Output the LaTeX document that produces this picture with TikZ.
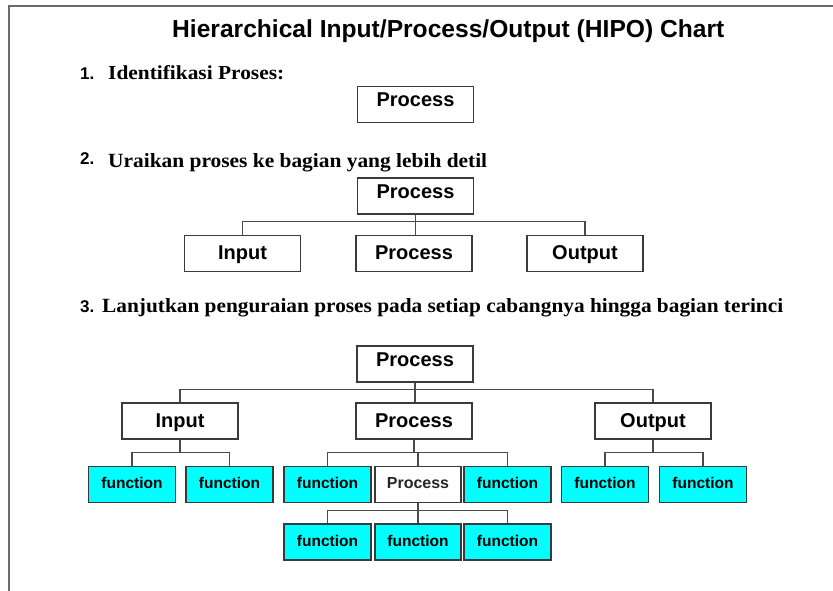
\documentclass[tikz,border=0pt]{standalone}
\usepackage{fontspec}
\setmainfont{Liberation Serif}
\setsansfont{Liberation Sans}
\usepackage{graphicx}
\definecolor{boxc}{HTML}{3A3A3A}
\definecolor{linec}{HTML}{4A4A4A}
\definecolor{framec}{HTML}{6A6A6A}
\definecolor{fnc}{HTML}{00FFFF}
\tikzset{
  box/.style={draw=boxc, line width=1.5pt, fill=white, minimum width=116pt, minimum height=36pt,
    inner sep=0pt, font=\sffamily\bfseries\fontsize{20}{20}\selectfont, text height=14.5pt, text depth=2.5pt},
  topbox/.style={box, text height=10pt, text depth=6pt},
  fnbox/.style={draw=boxc, line width=1.5pt, fill=fnc, minimum width=87pt, minimum height=36pt,
    inner sep=0pt, font=\sffamily\bfseries\fontsize{15.5}{15.5}\selectfont, text height=11pt, text depth=3pt},
  pbox/.style={fnbox, minimum width=86pt, fill=white, text=black!85, font=\sffamily\bfseries\fontsize{16}{16}\selectfont},
  conn/.style={draw=linec, line width=1.4pt},
  heading/.style={anchor=base west, inner sep=0pt},
  num/.style={anchor=base west, inner sep=0pt, font=\sffamily\bfseries\fontsize{17}{17}\selectfont},
}
\begin{document}
\begin{tikzpicture}[x=1pt, y=-1pt]
\useasboundingbox (0,0) rectangle (833,590);
% frame
\draw[framec, line width=2pt] (9,591) -- (9,6) -- (834,6);
% title
\node[heading] (title) at (172,37) {\resizebox{552pt}{!}{\sffamily\bfseries Hierarchical Input/Process/Output (HIPO) Chart}};
% step 1
\node[num] (n1) at (80,79) {1.};
\node[heading] (t1) at (108,79) {\resizebox{176pt}{14pt}{\bfseries Identifikasi Proses:}};
\node[topbox] (p1) at (415.5,104.5) {Process};
% step 2
\node[num] (n2) at (80,164) {2.};
\node[heading] (t2) at (108,167) {\resizebox{379pt}{14pt}{\bfseries Uraikan proses ke bagian yang lebih detil}};
\node[topbox] (p2) at (415.5,196) {Process};
\node[box] (i2) at (242.5,253.5) {Input};
\node[box] (r2) at (414,253.5) {Process};
\node[box] (o2) at (585,253.5) {Output};
\draw[conn] (p2.south) -- ++(0,7) coordinate (b2) -| (i2.north);
\draw[conn] (b2) -| (o2.north);
\draw[conn] (p2.south) -- (p2.south |- r2.north);
% step 3
\node[num] (n3) at (80,312) {3.};
\node[heading] (t3) at (102,312) {\resizebox{681pt}{14pt}{\bfseries Lanjutkan penguraian proses pada setiap cabangnya hingga bagian terinci}};
\node[topbox] (p3) at (415,364) {Process};
\node[box] (i3) at (180,421) {Input};
\node[box] (r3) at (414,421) {Process};
\node[box] (o3) at (653,421) {Output};
\draw[conn] (p3.south) -- ++(0,7) coordinate (b3) -| (i3.north);
\draw[conn] (b3) -| (o3.north);
\draw[conn] (p3.south) -- (p3.south |- r3.north);
% level 3
\node[fnbox] (fi1) at (132,484.5) {function};
\node[fnbox] (fi2) at (229.5,484.5) {function};
\node[fnbox] (fp1) at (327.5,484.5) {function};
\node[pbox] (ps) at (418,484.5) {Process};
\node[fnbox] (fp2) at (507.5,484.5) {function};
\node[fnbox] (fo1) at (605,484.5) {function};
\node[fnbox] (fo2) at (703,484.5) {function};
\draw[conn] (i3.south) -- ++(0,13) coordinate (bi) -| (fi1.north);
\draw[conn] (bi) -| (fi2.north);
\draw[conn] (r3.south) -- ++(0,13) coordinate (br) -| (fp1.north);
\draw[conn] (br) -| (fp2.north);
\draw[conn] (br) -| (ps.north);
\draw[conn] (o3.south) -- ++(0,13) coordinate (bo) -| (fo1.north);
\draw[conn] (bo) -| (fo2.north);
% level 4
\node[fnbox] (g1) at (327.5,542) {function};
\node[fnbox, minimum width=86pt] (g2) at (418,542) {function};
\node[fnbox] (g3) at (507.5,542) {function};
\draw[conn] (ps.south) -- ++(0,7) coordinate (bs) -| (g1.north);
\draw[conn] (bs) -| (g3.north);
\draw[conn] (ps.south) -- (g2.north);
\end{tikzpicture}
\end{document}
